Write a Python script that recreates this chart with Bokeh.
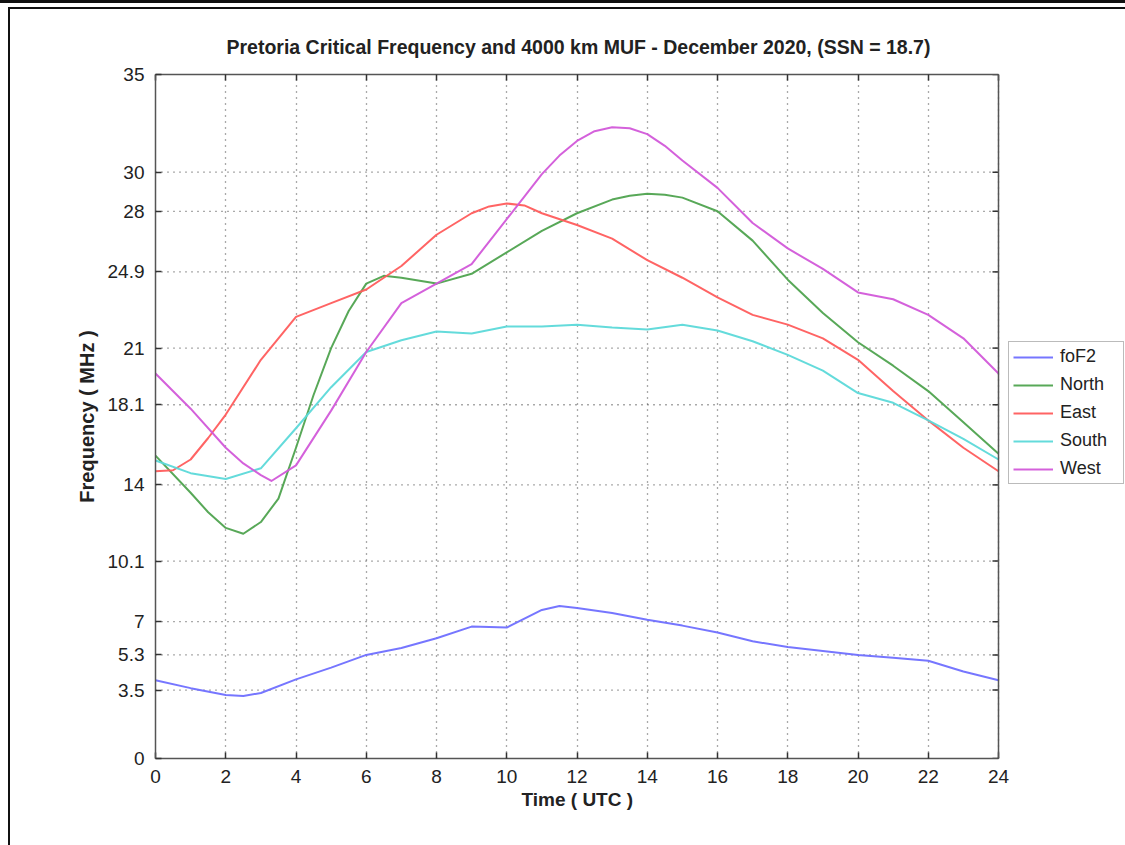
from bokeh.plotting import figure
from bokeh.models import (FixedTicker, LinearAxis, Legend, LegendItem, Range1d,
                          InlineStyleSheet, Span, Title)
from bokeh.embed import file_html
from bokeh.resources import INLINE

# ---------------- data ----------------
hours = [0, 1, 2, 3, 4, 5, 6, 7, 8, 9, 10, 11, 12, 13, 14, 15, 16, 17, 18,
         19, 20, 21, 22, 23, 24]

fof2_t = [0, 1, 2, 2.5, 3, 4, 5, 6, 7, 8, 9, 10, 11, 11.5, 12, 13, 14, 15,
          16, 17, 18, 19, 20, 21, 22, 23, 24]
fof2 = [4.0, 3.6, 3.25, 3.2, 3.35, 4.05, 4.65, 5.3, 5.65, 6.15, 6.75, 6.7,
        7.6, 7.8, 7.7, 7.45, 7.1, 6.8, 6.45, 6.0, 5.7, 5.5, 5.3, 5.15, 5.0,
        4.45, 4.0]

north_t = [0, 1, 1.5, 2, 2.5, 3, 3.5, 4, 4.5, 5, 5.5, 6, 6.5, 7, 8, 9, 10,
           11, 12, 13, 13.5, 14, 14.5, 15, 16, 17, 18, 19, 20, 21, 22, 23, 24]
north = [15.5, 13.6, 12.6, 11.8, 11.5, 12.1, 13.3, 15.9, 18.6, 21.0, 22.9,
         24.3, 24.7, 24.6, 24.3, 24.8, 25.9, 27.0, 27.9, 28.6, 28.8, 28.9,
         28.85, 28.7, 28.0, 26.5, 24.5, 22.8, 21.3, 20.1, 18.8, 17.2, 15.6]

east_t = [0, 0.5, 1, 1.5, 2, 3, 4, 5, 6, 7, 8, 9, 9.5, 10, 10.5, 11, 12, 13,
          14, 15, 16, 17, 18, 19, 20, 21, 22, 23, 24]
east = [14.7, 14.75, 15.3, 16.4, 17.6, 20.4, 22.6, 23.3, 24.0, 25.2, 26.8,
        27.9, 28.25, 28.4, 28.3, 27.9, 27.3, 26.6, 25.5, 24.6, 23.6, 22.7,
        22.2, 21.5, 20.4, 18.8, 17.3, 15.9, 14.7]

south_t = hours
south = [15.25, 14.6, 14.3, 14.85, 16.9, 19.0, 20.8, 21.4, 21.85, 21.75,
         22.1, 22.1, 22.2, 22.05, 21.95, 22.2, 21.9, 21.35, 20.65, 19.85,
         18.7, 18.2, 17.3, 16.35, 15.3]

west_t = [0, 1, 2, 2.5, 3, 3.3, 4, 5, 6, 7, 8, 9, 10, 11, 11.5, 12, 12.5, 13,
          13.5, 14, 14.5, 15, 16, 17, 18, 19, 20, 21, 22, 23, 24]
west = [19.7, 17.9, 15.9, 15.1, 14.5, 14.2, 15.0, 17.8, 20.8, 23.3, 24.3,
        25.3, 27.6, 29.9, 30.85, 31.6, 32.1, 32.3, 32.25, 31.95, 31.35, 30.6,
        29.2, 27.4, 26.1, 25.05, 23.85, 23.5, 22.7, 21.5, 19.7]

series_names = ["foF2", "North", "East", "South", "West"]
series_colors = ["#6f6fff", "#4fa34f", "#ff5c5c", "#5cd9d9", "#d259d9"]

y_ticks = [0, 3.5, 5.3, 7, 10.1, 14, 18.1, 21, 24.9, 28, 30, 35]
y_tick_labels = ["0", "3.5", "5.3", "7", "10.1", "14", "18.1", "21", "24.9",
                 "28", "30", "35"]
x_ticks = [0, 2, 4, 6, 8, 10, 12, 14, 16, 18, 20, 22, 24]
X_MIN, X_MAX = 0, 24
Y_MIN, Y_MAX = 0, 35

title_text = "Pretoria Critical Frequency and 4000 km MUF - December 2020, (SSN = 18.7)"
x_label = "Time ( UTC )"
y_label = "Frequency ( MHz )"

# ---------------- layout constants ----------------
FONT = "Liberation Sans"
W, H = 1125, 845
LEFT, TOP, BOTTOM = 155, 74, 87
AXES_W = 843                      # pixel width of the 0..24 h box
FRAME_W = W - LEFT                # frame extends under the legend
x_end = X_MAX * FRAME_W / AXES_W  # so that 0..24 h spans AXES_W pixels
px_per_x = AXES_W / (X_MAX - X_MIN)
TICK_LEN = 6

frame_css = InlineStyleSheet(css="""
:host { position: relative; }
:host::before { content: ''; position: absolute; left: 0; right: 0; top: 0;
  height: 3px; background: #111; z-index: 10; pointer-events: none; }
:host::after { content: ''; position: absolute; left: 8px; right: 0; top: 7px;
  bottom: 0; border-left: 2px solid #111; border-top: 2px solid #111;
  z-index: 10; pointer-events: none; }
""")

p = figure(width=W, height=H, output_backend="svg", toolbar_location=None,
           x_range=Range1d(X_MIN, x_end), y_range=Range1d(Y_MIN, Y_MAX),
           min_border_left=LEFT, min_border_right=0, min_border_top=TOP,
           min_border_bottom=BOTTOM, background_fill_color="white",
           border_fill_color="white")
p.stylesheets = [frame_css]
p.title.text = title_text
p.title.align = "left"
p.title.offset = 71
p.title.text_font = FONT
p.title.text_font_style = "bold"
p.title.text_font_size = "19.5px"
p.title.text_color = "#222222"
p.title.standoff = 34
p.outline_line_color = None

AX_COLOR = "#555555"

# grid (dotted) -- vertical via grid, horizontal limited to the 0..24 box
p.xgrid.ticker = FixedTicker(ticks=x_ticks)
p.xgrid.grid_line_color = AX_COLOR
p.xgrid.grid_line_dash = "1 5"
p.xgrid.grid_line_width = 1.3
p.ygrid.visible = False
inner_y = y_ticks[1:-1]
p.segment(x0=[X_MIN] * len(inner_y), y0=inner_y, x1=[X_MAX] * len(inner_y),
          y1=inner_y, line_color=AX_COLOR, line_dash="1 5", line_width=1.3)

data = [(fof2_t, fof2), (north_t, north), (east_t, east), (south_t, south),
        (west_t, west)]
renderers = []
for (xs, ys), c in zip(data, series_colors):
    r = p.line(xs, ys, line_color=c, line_width=2, line_alpha=0.95,
               line_join="round")
    renderers.append(r)

# right edge of the box and its inward ticks
p.add_layout(Span(location=X_MAX, dimension="height", line_color=AX_COLOR,
                  line_width=1.5))
tick_dx = TICK_LEN / px_per_x
p.segment(x0=[X_MAX] * len(y_ticks), y0=y_ticks,
          x1=[X_MAX - tick_dx] * len(y_ticks), y1=y_ticks,
          line_color="#333333", line_width=1.5)


def style_axis(ax, size="19px"):
    ax.axis_line_color = AX_COLOR
    ax.axis_line_width = 1.5
    ax.major_tick_in = TICK_LEN
    ax.major_tick_out = 0
    ax.major_tick_line_color = "#333333"
    ax.major_tick_line_width = 1.5
    ax.minor_tick_line_color = None
    ax.major_label_text_font = FONT
    ax.major_label_text_font_size = size
    ax.major_label_text_color = "#222222"
    ax.axis_label_text_font = FONT
    ax.axis_label_text_font_style = "bold"
    ax.axis_label_text_color = "#222222"


overrides = {t: l for t, l in zip(y_ticks, y_tick_labels)}
for ax in p.yaxis:
    style_axis(ax)
    ax.ticker = FixedTicker(ticks=y_ticks)
    ax.major_label_overrides = overrides
    ax.axis_label = y_label
    ax.axis_label_text_font_size = "20px"
    ax.major_label_standoff = 11
    ax.axis_label_standoff = 7
for ax in p.xaxis:
    style_axis(ax)
    ax.ticker = FixedTicker(ticks=x_ticks)
    ax.bounds = (X_MIN, X_MAX)
    ax.major_label_standoff = 11

# x-axis label as a title below, centred under the 0..24 h box
xlab = Title(text=x_label, align="left", offset=521 - LEFT,
             text_font=FONT, text_font_style="bold", text_font_size="19px",
             text_color="#222222", standoff=3)
p.add_layout(xlab, "below")

top_ax = LinearAxis(ticker=FixedTicker(ticks=x_ticks), bounds=(X_MIN, X_MAX))
style_axis(top_ax, size="0px")
top_ax.major_label_text_color = None
top_ax.major_label_standoff = 0
p.add_layout(top_ax, "above")

legend = Legend(items=[LegendItem(label=n, renderers=[r])
                       for n, r in zip(series_names, renderers)],
                location=(853, 274))
legend.label_text_font = FONT
legend.label_text_font_size = "18px"
legend.label_text_color = "#222222"
legend.glyph_width = 40
legend.glyph_height = 20
legend.label_height = 20
legend.label_width = 59
legend.label_standoff = 7
legend.spacing = 7
legend.padding = 4
legend.margin = 0
legend.border_line_color = "#777777"
legend.border_line_width = 1.5
legend.background_fill_alpha = 1.0
p.add_layout(legend, "center")

open("out.html", "w").write(file_html(p, INLINE))
